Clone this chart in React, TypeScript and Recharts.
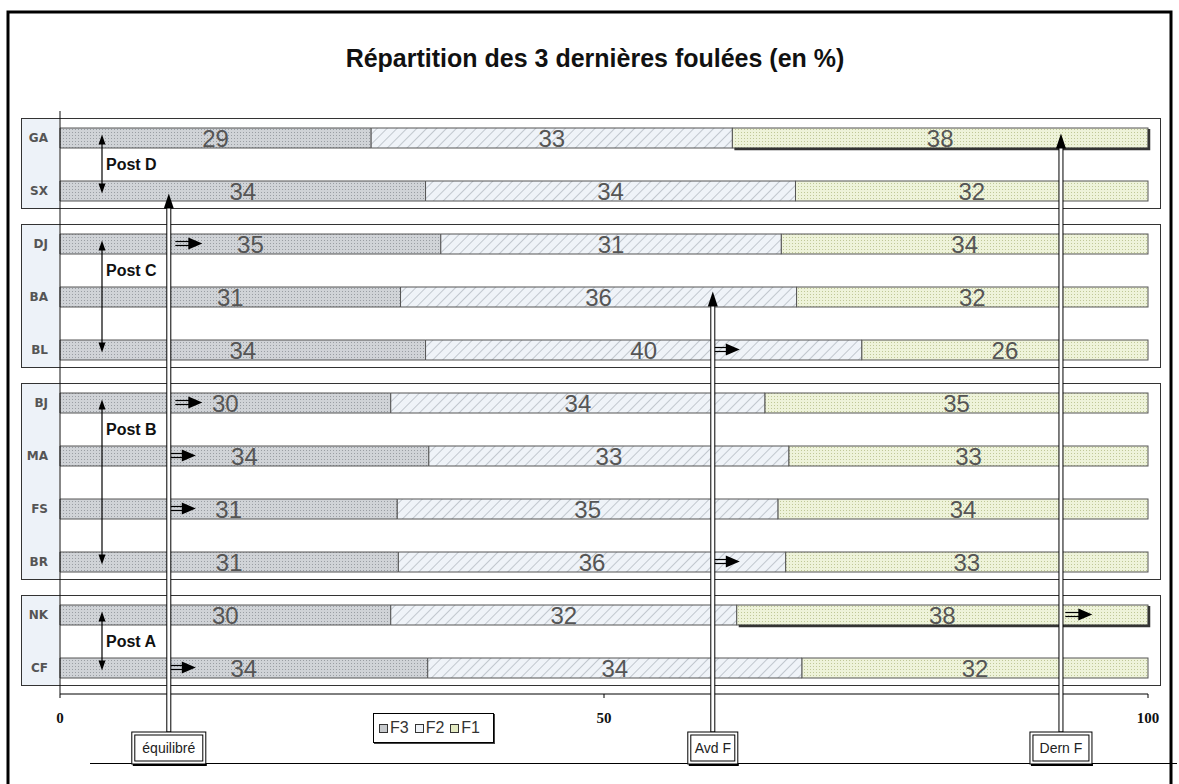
import React from "react";
import { BarChart, Bar, XAxis, YAxis, LabelList, Legend } from "recharts";

// runners, top to bottom (labels shown rounded)
const runners = ["GA", "SX", "DJ", "BA", "BL", "BJ", "MA", "FS", "BR", "NK", "CF"];
const f3 = [28.6, 33.6, 35.0, 31.3, 33.6, 30.4, 33.9, 31.0, 31.1, 30.4, 33.8];
const f2 = [33.2, 34.0, 31.3, 36.4, 40.1, 34.4, 33.1, 35.0, 35.6, 31.8, 34.4];
const f1 = [38.2, 32.4, 33.7, 32.3, 26.3, 35.2, 33.0, 34.0, 33.3, 37.8, 31.8];
const xTicks = [0, 50, 100];

const posts = [
  { label: "Post D", first: "GA", last: "SX" },
  { label: "Post C", first: "DJ", last: "BL" },
  { label: "Post B", first: "BJ", last: "BR" },
  { label: "Post A", first: "NK", last: "CF" },
];
const markers = [
  { label: "équilibré", at: 10, target: "SX", dy: 3, w: 74 },
  { label: "Avd F", at: 60, target: "BA", dy: -5, w: 50 },
  { label: "Dern F", at: 92, target: "GA", dy: -4, w: 62 },
];
const arrows = [
  { row: "DJ", at: 10.6 },
  { row: "BL", at: 60 },
  { row: "BJ", at: 10.6 },
  { row: "MA", at: 10 },
  { row: "FS", at: 10 },
  { row: "BR", at: 60 },
  { row: "NK", at: 92.4 },
  { row: "CF", at: 10 },
];
const shadowed = ["GA", "NK"];

const data = runners.map((name, i) => ({ name, F3: f3[i], F2: f2[i], F1: f1[i] }));

const W = 1179;
const H = 784;
const PLOT = { left: 60, right: 1148, top: 111, bottom: 694 };
const band = (PLOT.bottom - PLOT.top) / runners.length;
const xAt = (v: number) => PLOT.left + (v / 100) * (PLOT.right - PLOT.left);
const yAt = (name: string) => PLOT.top + (runners.indexOf(name) + 0.5) * band;

const sans = "'Liberation Sans', Arial, sans-serif";
const round = (v: any) => Math.round(Number(v));

function F1Shape(props: any) {
  const { x, y, width, height, fill, payload } = props;
  const shadow = shadowed.includes(payload?.name);
  return (
    <g>
      <rect x={x} y={y} width={width} height={height} fill={fill} stroke="#555" strokeWidth={1} />
      {shadow && (
        <path
          d={`M${x + 2},${y + height + 1} H${x + width + 1} V${y + 1}`}
          stroke="#333"
          strokeWidth={2.5}
          fill="none"
        />
      )}
    </g>
  );
}

function LegendBox() {
  const items = [
    { k: "F3", c: "#c6c9cc" },
    { k: "F2", c: "#eef2f7" },
    { k: "F1", c: "#e4ebc2" },
  ];
  return (
    <div
      style={{
        border: "1px solid #000",
        boxShadow: "1px 1px 0 #444",
        width: 121,
        height: 30,
        display: "flex",
        alignItems: "center",
        paddingLeft: 5,
        boxSizing: "border-box",
        fontFamily: sans,
        fontSize: 16,
        color: "#333",
        background: "#fff",
      }}
    >
      {items.map((it) => (
        <span key={it.k} style={{ display: "inline-flex", alignItems: "center", marginRight: 6 }}>
          <span
            style={{
              display: "inline-block",
              width: 7,
              height: 7,
              border: "1px solid #333",
              background: it.c,
              marginRight: 2,
            }}
          />
          {it.k}
        </span>
      ))}
    </div>
  );
}

export default function App() {
  return (
    <div style={{ position: "absolute", left: 0, top: 0, width: W, height: H, background: "#fff", fontFamily: sans }}>
      {/* background: frame + group boxes */}
      <svg width={W} height={H} style={{ position: "absolute", left: 0, top: 0 }}>
        <path d={`M8,${H + 5} V12 H1171 V${H + 5}`} stroke="#000" strokeWidth={3} fill="none" />
        {posts.map((p) => {
          const top = yAt(p.first) - 19;
          const bottom = yAt(p.last) + 18;
          return (
            <g key={p.label}>
              <rect x={21.5} y={top} width={1139} height={bottom - top} fill="#fff" stroke="#333" />
              <rect x={22} y={top + 0.5} width={37} height={bottom - top - 1} fill="#edf2f8" />
            </g>
          );
        })}
        <text x={595} y={67} textAnchor="middle" fontFamily={sans} fontWeight="bold" fontSize={25} fill="#111">
          Répartition des 3 dernières foulées (en %)
        </text>
      </svg>

      <div style={{ position: "absolute", left: 0, top: 0 }}>
        <BarChart
          width={W}
          height={H}
          data={data}
          layout="vertical"
          barSize={20}
          margin={{ top: PLOT.top, right: W - PLOT.right, bottom: H - PLOT.bottom - 30, left: 0 }}
        >
          <defs>
            <pattern id="pF3" width="3" height="3" patternUnits="userSpaceOnUse">
              <rect width="3" height="3" fill="#d0d3d7" />
              <rect width="1" height="1" fill="#9a9ea3" />
            </pattern>
            <pattern id="pF2" width="7" height="7" patternUnits="userSpaceOnUse" patternTransform="rotate(45)">
              <rect width="7" height="7" fill="#eff3f8" />
              <line x1="0" y1="0" x2="0" y2="7" stroke="#a9afb7" strokeWidth="1.3" />
            </pattern>
            <pattern id="pF1" width="3" height="3" patternUnits="userSpaceOnUse">
              <rect width="3" height="3" fill="#eef3da" />
              <rect width="1" height="1" fill="#c0c898" />
            </pattern>
          </defs>
          <XAxis
            type="number"
            domain={[0, 100]}
            ticks={xTicks}
            height={30}
            axisLine={{ stroke: "#000" }}
            tickLine={{ stroke: "#000" }}
            tickSize={4}
            tickMargin={14}
            tick={{ fill: "#111", fontSize: 15, fontWeight: "bold", fontFamily: "'Liberation Serif', serif" }}
          />
          <YAxis
            type="category"
            dataKey="name"
            width={PLOT.left}
            axisLine={{ stroke: "#111" }}
            tickLine={false}
            tickSize={0}
            tickMargin={12}
            tick={{ fill: "#555", fontSize: 12, fontWeight: "bold", fontFamily: "'DejaVu Sans', sans-serif" }}
          />
          <Legend
            layout="horizontal"
            verticalAlign="middle"
            align="center"
            content={() => <LegendBox />}
            wrapperStyle={{ left: 373, top: 713, width: 122, height: 30 }}
          />
          <Bar dataKey="F3" stackId="a" fill="url(#pF3)" stroke="#555" strokeWidth={1} isAnimationActive={false}>
            <LabelList dataKey="F3" position="center" formatter={round} fill="#555" fontSize={24} fontFamily={sans} />
          </Bar>
          <Bar dataKey="F2" stackId="a" fill="url(#pF2)" stroke="#555" strokeWidth={1} isAnimationActive={false}>
            <LabelList dataKey="F2" position="center" formatter={round} fill="#555" fontSize={24} fontFamily={sans} />
          </Bar>
          <Bar dataKey="F1" stackId="a" fill="url(#pF1)" shape={F1Shape} isAnimationActive={false}>
            <LabelList dataKey="F1" position="center" formatter={round} fill="#555" fontSize={24} fontFamily={sans} />
          </Bar>
        </BarChart>
      </div>

      {/* overlay: annotations */}
      <svg width={W} height={H} style={{ position: "absolute", left: 0, top: 0, pointerEvents: "none" }}>
        <line x1={90} y1={763.5} x2={1177} y2={763.5} stroke="#000" />
        {posts.map((p) => {
          const y1 = yAt(p.first);
          const y2 = yAt(p.last);
          return (
            <g key={p.label}>
              <line x1={102} y1={y1 + 6} x2={102} y2={y2 - 6} stroke="#000" strokeWidth={1.2} />
              <path d={`M102,${y1 - 3} L98.5,${y1 + 7} L105.5,${y1 + 7} Z`} fill="#000" />
              <path d={`M102,${y2 + 3} L98.5,${y2 - 7} L105.5,${y2 - 7} Z`} fill="#000" />
              <text x={106} y={y1 + band / 2 + 6} fontFamily={sans} fontWeight="bold" fontSize={16} fill="#111">
                {p.label}
              </text>
            </g>
          );
        })}
        {arrows.map((a, i) => {
          const x = xAt(a.at);
          const y = yAt(a.row);
          return (
            <g key={i}>
              <line x1={x} y1={y - 2} x2={x + 15} y2={y - 2} stroke="#000" strokeWidth={1.2} />
              <line x1={x} y1={y + 2} x2={x + 15} y2={y + 2} stroke="#000" strokeWidth={1.2} />
              <path d={`M${x + 13},${y - 6} L${x + 27},${y} L${x + 13},${y + 6} Z`} fill="#000" />
            </g>
          );
        })}
        {markers.map((m) => {
          const x = xAt(m.at);
          const tip = yAt(m.target) + m.dy;
          const bx = x - m.w / 2;
          return (
            <g key={m.label}>
              <rect x={x - 2} y={tip + 12} width={4} height={732 - tip - 12} fill="#fff" stroke="#000" strokeWidth={1} />
              <path d={`M${x},${tip} L${x - 5},${tip + 15} L${x + 5},${tip + 15} Z`} fill="#000" />
              <rect x={bx} y={732} width={m.w} height={32} fill="#fff" stroke="#000" />
              <line x1={bx + 1} y1={765} x2={bx + m.w + 1} y2={765} stroke="#000" strokeWidth={2} />
              <rect x={bx + 3} y={735} width={m.w - 6} height={26} fill="#fff" stroke="#000" />
              <text x={x} y={753} textAnchor="middle" fontFamily={sans} fontSize={14} fill="#222">
                {m.label}
              </text>
            </g>
          );
        })}
      </svg>
    </div>
  );
}
